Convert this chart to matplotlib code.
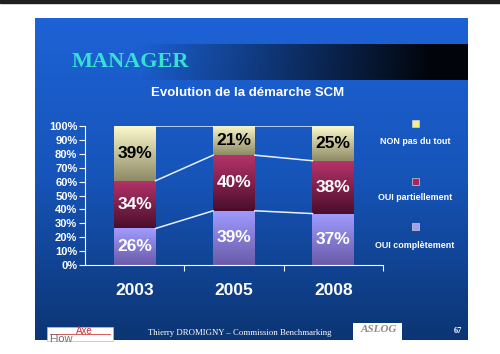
import matplotlib.pyplot as plt
import numpy as np
from matplotlib.colors import LinearSegmentedColormap
from matplotlib.patches import Rectangle

plt.rcParams['font.family'] = ['Liberation Sans', 'DejaVu Sans']

# data (percent of answers)
years = ['2003', '2005', '2008']
oui_complet = [26, 39, 37]
oui_partiel = [34, 40, 38]
non_pas = [39, 21, 25]
series_names = ['OUI complètement', 'OUI partiellement', 'NON pas du tout']

W, H = 500, 354
fig = plt.figure(figsize=(5, 3.54), dpi=100)
fig.patch.set_facecolor('white')

# background axes in pixel units (y down) for the slide itself
bg = fig.add_axes([0, 0, 1, 1])
bg.axis('off')

grad = np.linspace(0, 1, 256).reshape(-1, 1)
blue = LinearSegmentedColormap.from_list('blue', ['#1d62d6', '#1654b8', '#0c3573'])
bg.imshow(grad, cmap=blue, extent=[35, 468, 340, 18], aspect='auto', zorder=0)

# dark banner behind the heading, fading to black on the right
band = np.zeros((1, 256, 4))
band[..., 3] = np.clip((np.linspace(35, 468, 256) - 140) / 290, 0, 1) * 0.95
bg.imshow(band, extent=[35, 468, 80, 44], aspect='auto', zorder=1)

bg.add_patch(Rectangle((0, 0), W, 2.5, color='#202020', zorder=1))

bg.text(72, 62, 'MANAGER', family='Liberation Serif', fontsize=16, fontweight='bold',
        color='#35e2d2', va='center', ha='left', zorder=3)
bg.text(248, 93, 'Evolution de la démarche SCM', fontsize=9.5, fontweight='bold',
        color='white', va='center', ha='center', zorder=3)

# legend on the right
leg_colors = ['#f2f08a', '#a52858', '#a79cf0']
leg_names = ['NON pas du tout', 'OUI partiellement', 'OUI complètement']
sq_y = [123, 181, 226]
txt_y = [142, 197, 245]
for c, name, sy, ty in zip(leg_colors, leg_names, sq_y, txt_y):
    bg.add_patch(Rectangle((412, sy - 3.5), 7, 7, facecolor=c, edgecolor='#d0d0d0',
                           lw=0.5, zorder=3))
    bg.text(415, ty, name, fontsize=6.4, fontweight='bold', color='white',
            ha='center', va='center', zorder=3)

# footer
bg.add_patch(Rectangle((47, 327), 66, 14, facecolor='white', edgecolor='#bbbbbb',
                       lw=0.5, zorder=3))
bg.plot([50, 110], [334, 334], color='#d04040', lw=0.6, zorder=4)
bg.text(84, 331, 'Axe', fontsize=7, color='#d03030', ha='center', va='center', zorder=4)
bg.text(49, 339, 'Flow', fontsize=8, color='#707070', ha='left', va='center', zorder=4)
bg.text(240, 333, 'Thierry DROMIGNY – Commission Benchmarking', family='Liberation Serif',
        fontsize=6.3, color='white', ha='center', va='center', zorder=3)
bg.add_patch(Rectangle((353, 323), 49, 19, facecolor='white', edgecolor='none', zorder=3))
bg.text(379, 330, 'ASLOG', family='Liberation Serif', fontsize=8, fontstyle='italic',
        fontweight='bold', color='#8a8a8a', ha='center', va='center', zorder=4)
bg.text(458, 331, '67', family='Liberation Serif', fontsize=6, fontweight='bold',
        color='white', ha='center', va='center', zorder=3)

bg.set_xlim(0, W)
bg.set_ylim(H, 0)

# chart axes placed in pixel positions of the slide
ax = fig.add_axes([85 / W, 1 - 265 / H, 298 / W, 139 / H])
ax.patch.set_alpha(0)

x = np.arange(len(years))
width = 0.42
values = np.array([oui_complet, oui_partiel, non_pas], dtype=float)
shares = values / values.sum(axis=0) * 100
cmaps = [
    LinearSegmentedColormap.from_list('c0', ['#a09cff', '#6a5aa8']),
    LinearSegmentedColormap.from_list('c1', ['#b5336a', '#4a0e2c']),
    LinearSegmentedColormap.from_list('c2', ['#fbf8cc', '#8e8a66']),
]
label_colors = ['white', 'white', 'black']

bottom = np.zeros(len(years))
for k in range(3):
    bars = ax.bar(x, shares[k], width, bottom=bottom, color='none', zorder=2)
    for b, v in zip(bars, values[k]):
        x0, y0 = b.get_x(), b.get_y()
        ax.imshow(grad, cmap=cmaps[k], aspect='auto', zorder=2,
                  extent=[x0, x0 + b.get_width(), y0, y0 + b.get_height()])
        ax.text(x0 + b.get_width() / 2, y0 + b.get_height() / 2, f'{int(v)}%',
                fontsize=12.5, fontweight='bold', color=label_colors[k],
                ha='center', va='center', zorder=4)
    bottom += shares[k]

# series lines between the bars
cum = np.cumsum(shares, axis=0)
for level in cum:
    for i in range(len(x) - 1):
        ax.plot([x[i] + width / 2, x[i + 1] - width / 2], [level[i], level[i + 1]],
                color='#e8f0ff', lw=1.1, zorder=3)

ax.set_xlim(-0.5, 2.5)
ax.set_ylim(0, 100)
ax.set_yticks(range(0, 101, 10))
ax.set_yticklabels([f'{v}%' for v in range(0, 101, 10)], fontweight='bold')
ax.tick_params(axis='y', colors='white', length=4, width=0.8, labelsize=8, pad=1.5)
ax.set_xticks(x)
ax.set_xticklabels(years, fontsize=12.5, fontweight='bold', color='white')
ax.tick_params(axis='x', which='major', length=0, pad=13)
ax.set_xticks([0.5, 1.5, 2.5], minor=True)
ax.tick_params(axis='x', which='minor', length=4, width=0.8, color='white')
for s in ['top', 'right']:
    ax.spines[s].set_visible(False)
for s in ['left', 'bottom']:
    ax.spines[s].set_color('white')
    ax.spines[s].set_linewidth(0.8)

fig.savefig('out.png', dpi=100)
